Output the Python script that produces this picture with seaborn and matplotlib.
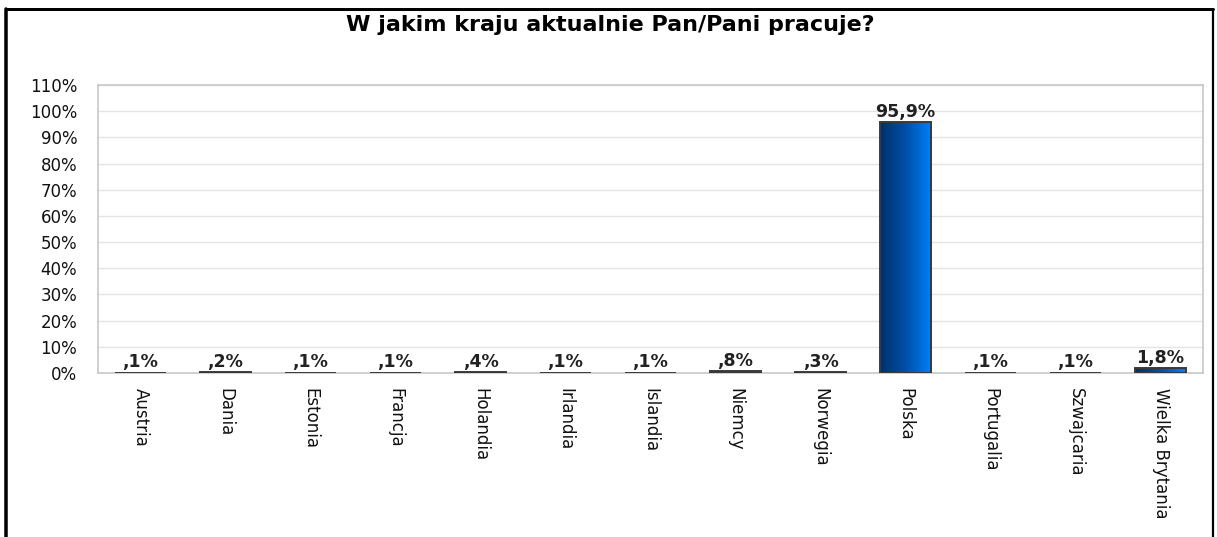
import numpy as np
import pandas as pd
import matplotlib
matplotlib.use("Agg")
import matplotlib.pyplot as plt
from matplotlib.colors import LinearSegmentedColormap
from matplotlib.lines import Line2D
import seaborn as sns

# dane z wykresu
kraje = ["Austria", "Dania", "Estonia", "Francja", "Holandia", "Irlandia", "Islandia",
         "Niemcy", "Norwegia", "Polska", "Portugalia", "Szwajcaria", "Wielka Brytania"]
procent = [0.1, 0.2, 0.1, 0.1, 0.4, 0.1, 0.1, 0.8, 0.3, 95.9, 0.1, 0.1, 1.8]
etykiety = [",1%", ",2%", ",1%", ",1%", ",4%", ",1%", ",1%", ",8%", ",3%", "95,9%", ",1%", ",1%", "1,8%"]
yticki = list(range(0, 111, 10))

sns.set_style("white")
plt.rcParams['font.family'] = ['DejaVu Sans']

W, H = 1217, 537
fig = plt.figure(figsize=(W / 100, H / 100), dpi=100)
ax = fig.add_axes([98 / W, (H - 373) / H, (1203 - 98) / W, (373 - 85) / H])

df = pd.DataFrame({"kraj": kraje, "proc": procent})
sns.barplot(data=df, x="kraj", y="proc", ax=ax, width=0.6, color="#0060c0",
            edgecolor="#3a3a3a", linewidth=1.4)

# gradient na slupkach
cmap = LinearSegmentedColormap.from_list("niebieski", ["#002f6c", "#0050a8", "#0080f8"])
grad = np.linspace(0, 1, 64).reshape(1, -1)
for p in ax.patches:
    x0, y0 = p.get_x(), p.get_y()
    w, h = p.get_width(), p.get_height()
    im = ax.imshow(grad, cmap=cmap, aspect="auto", extent=[x0, x0 + w, y0, y0 + h], zorder=2.8)
    im.set_clip_path(p)
    p.set_facecolor("none")
    p.set_zorder(3)

for i, (v, t) in enumerate(zip(procent, etykiety)):
    ax.annotate(t, (i, v), xytext=(0, 1), textcoords="offset points", ha="center", va="bottom",
                fontsize=12.5, fontweight="bold", color="#222222")

ax.set_xlim(-0.5, len(kraje) - 0.5)
ax.set_ylim(0, 110)
ax.set_yticks(yticki)
ax.set_yticklabels([f"{t}%" for t in yticki], fontsize=12, color="#111111")
ax.yaxis.grid(True, color="#e4e4e4", linewidth=1)
ax.set_axisbelow(True)
ax.tick_params(axis="y", length=0, pad=15)

ax.set_xticks(range(len(kraje)))
ax.set_xticklabels(kraje, rotation=270, fontsize=12, color="#111111", va="top", ha="center")
ax.tick_params(axis="x", which="major", length=0, pad=11)
ax.set_xticks(np.arange(-0.5, len(kraje), 1), minor=True)
ax.tick_params(axis="x", which="minor", length=9, color="#c8c8c8", width=1, direction="out")
ax.set_xlabel("")
ax.set_ylabel("")
for s in ax.spines.values():
    s.set_color("#c8c8c8")
    s.set_linewidth(1.2)

fig.text(610 / W, 1 - 25 / H, "W jakim kraju aktualnie Pan/Pani pracuje?", ha="center", va="center",
         fontsize=16, fontweight="bold", color="#000000")

# czarna ramka
def px(x, y):
    return x / W, 1 - y / H

for (xa, ya), (xb, yb), lw in [((6, 9), (1213, 9), 3), ((6, 9), (6, 540), 3.5), ((1213, 9), (1213, 540), 2.2)]:
    a, b = px(xa, ya), px(xb, yb)
    fig.add_artist(Line2D([a[0], b[0]], [a[1], b[1]], color="black", linewidth=lw * 0.72,
                          transform=fig.transFigure))

fig.savefig("out.png", dpi=100)
